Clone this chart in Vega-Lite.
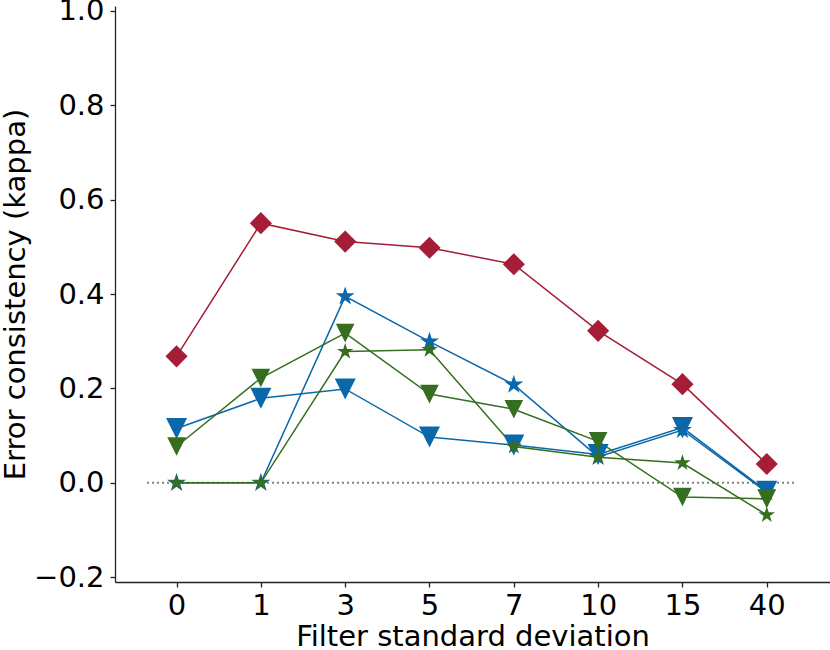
{
  "$schema": "https://vega.github.io/schema/vega-lite/v6.json",
  "autosize": "none",
  "width": 715,
  "height": 576,
  "padding": {"left": 115, "top": 6, "right": 0, "bottom": 68},
  "background": "white",
  "config": {
    "view": {"stroke": null},
    "font": "DejaVu Sans",
    "axis": {
      "grid": false,
      "domainColor": "#222222",
      "domainWidth": 1.3,
      "tickColor": "#222222",
      "tickWidth": 1.3,
      "tickSize": 5,
      "labelFont": "DejaVu Sans",
      "labelFontSize": 29,
      "labelColor": "black",
      "titleFont": "DejaVu Sans",
      "titleFontSize": 29,
      "titleFontWeight": "normal",
      "titleColor": "black"
    }
  },
  "datasets": {
    "kappa": [
      {"series": "red diamond", "idx": 0, "sigma": "0", "kappa": 0.268},
      {"series": "red diamond", "idx": 1, "sigma": "1", "kappa": 0.550},
      {"series": "red diamond", "idx": 2, "sigma": "3", "kappa": 0.511},
      {"series": "red diamond", "idx": 3, "sigma": "5", "kappa": 0.498},
      {"series": "red diamond", "idx": 4, "sigma": "7", "kappa": 0.463},
      {"series": "red diamond", "idx": 5, "sigma": "10", "kappa": 0.322},
      {"series": "red diamond", "idx": 6, "sigma": "15", "kappa": 0.209},
      {"series": "red diamond", "idx": 7, "sigma": "40", "kappa": 0.040},
      {"series": "blue triangle", "idx": 0, "sigma": "0", "kappa": 0.115},
      {"series": "blue triangle", "idx": 1, "sigma": "1", "kappa": 0.179},
      {"series": "blue triangle", "idx": 2, "sigma": "3", "kappa": 0.199},
      {"series": "blue triangle", "idx": 3, "sigma": "5", "kappa": 0.097},
      {"series": "blue triangle", "idx": 4, "sigma": "7", "kappa": 0.080},
      {"series": "blue triangle", "idx": 5, "sigma": "10", "kappa": 0.060},
      {"series": "blue triangle", "idx": 6, "sigma": "15", "kappa": 0.117},
      {"series": "blue triangle", "idx": 7, "sigma": "40", "kappa": -0.018},
      {"series": "blue star", "idx": 0, "sigma": "0", "kappa": 0.0},
      {"series": "blue star", "idx": 1, "sigma": "1", "kappa": 0.0},
      {"series": "blue star", "idx": 2, "sigma": "3", "kappa": 0.395},
      {"series": "blue star", "idx": 3, "sigma": "5", "kappa": 0.299},
      {"series": "blue star", "idx": 4, "sigma": "7", "kappa": 0.208},
      {"series": "blue star", "idx": 5, "sigma": "10", "kappa": 0.055},
      {"series": "blue star", "idx": 6, "sigma": "15", "kappa": 0.112},
      {"series": "blue star", "idx": 7, "sigma": "40", "kappa": -0.020},
      {"series": "green triangle", "idx": 0, "sigma": "0", "kappa": 0.077},
      {"series": "green triangle", "idx": 1, "sigma": "1", "kappa": 0.222},
      {"series": "green triangle", "idx": 2, "sigma": "3", "kappa": 0.317},
      {"series": "green triangle", "idx": 3, "sigma": "5", "kappa": 0.188},
      {"series": "green triangle", "idx": 4, "sigma": "7", "kappa": 0.156},
      {"series": "green triangle", "idx": 5, "sigma": "10", "kappa": 0.088},
      {"series": "green triangle", "idx": 6, "sigma": "15", "kappa": -0.030},
      {"series": "green triangle", "idx": 7, "sigma": "40", "kappa": -0.034},
      {"series": "green star", "idx": 0, "sigma": "0", "kappa": 0.0},
      {"series": "green star", "idx": 1, "sigma": "1", "kappa": 0.0},
      {"series": "green star", "idx": 2, "sigma": "3", "kappa": 0.278},
      {"series": "green star", "idx": 3, "sigma": "5", "kappa": 0.282},
      {"series": "green star", "idx": 4, "sigma": "7", "kappa": 0.077},
      {"series": "green star", "idx": 5, "sigma": "10", "kappa": 0.054},
      {"series": "green star", "idx": 6, "sigma": "15", "kappa": 0.042},
      {"series": "green star", "idx": 7, "sigma": "40", "kappa": -0.068}
    ],
    "zeroline": [
      {"start": -0.35, "end": 7.35, "kappa": 0}
    ]
  },
  "layer": [
    {
      "data": {"name": "zeroline"},
      "mark": {"type": "rule", "color": "#808080", "strokeWidth": 2, "strokeDash": [2, 3]},
      "encoding": {
        "x": {"field": "start", "type": "quantitative", "scale": {"domain": [-0.73, 7.75], "nice": false, "zero": false}},
        "x2": {"field": "end"},
        "y": {"field": "kappa", "type": "quantitative"}
      }
    },
    {
      "data": {"name": "kappa"},
      "mark": {"type": "line", "strokeWidth": 1.5},
      "encoding": {
        "x": {
          "field": "idx",
          "type": "quantitative",
          "title": "Filter standard deviation",
          "scale": {"domain": [-0.73, 7.75], "nice": false, "zero": false},
          "axis": {
            "values": [0, 1, 2, 3, 4, 5, 6, 7],
            "labelExpr": "['0','1','3','5','7','10','15','40'][datum.value]",
            "labelPadding": 4,
            "titlePadding": 2
          }
        },
        "y": {
          "field": "kappa",
          "type": "quantitative",
          "title": "Error consistency (kappa)",
          "scale": {"domain": [-0.21, 1.01], "nice": false, "zero": false},
          "axis": {
            "values": [-0.2, 0, 0.2, 0.4, 0.6, 0.8, 1.0],
            "format": ".1f",
            "labelPadding": 6,
            "titlePadding": 3
          }
        },
        "color": {
          "field": "series",
          "type": "nominal",
          "legend": null,
          "scale": {
            "domain": ["red diamond", "blue triangle", "blue star", "green triangle", "green star"],
            "range": ["#A51D37", "#0A68AA", "#0A68AA", "#366E20", "#366E20"]
          }
        },
        "order": {"field": "idx"}
      }
    },
    {
      "data": {"name": "kappa"},
      "mark": {"type": "point", "filled": true, "opacity": 1},
      "encoding": {
        "x": {"field": "idx", "type": "quantitative"},
        "y": {"field": "kappa", "type": "quantitative"},
        "color": {"field": "series", "type": "nominal", "legend": null},
        "shape": {
          "field": "series",
          "type": "nominal",
          "legend": null,
          "scale": {
            "domain": ["red diamond", "blue triangle", "blue star", "green triangle", "green star"],
            "range": [
              "diamond",
              "M-1,-1L1,-1L0,1Z",
              "M0,-1L0.2245,-0.309L0.951,-0.309L0.363,0.118L0.588,0.809L0,0.382L-0.588,0.809L-0.363,0.118L-0.951,-0.309L-0.2245,-0.309Z",
              "M-1,-1L1,-1L0,1Z",
              "M0,-1L0.2245,-0.309L0.951,-0.309L0.363,0.118L0.588,0.809L0,0.382L-0.588,0.809L-0.363,0.118L-0.951,-0.309L-0.2245,-0.309Z"
            ]
          }
        },
        "size": {
          "field": "series",
          "type": "nominal",
          "legend": null,
          "scale": {
            "domain": ["red diamond", "blue triangle", "blue star", "green triangle", "green star"],
            "range": [490, 300, 250, 300, 250]
          }
        }
      }
    }
  ]
}
